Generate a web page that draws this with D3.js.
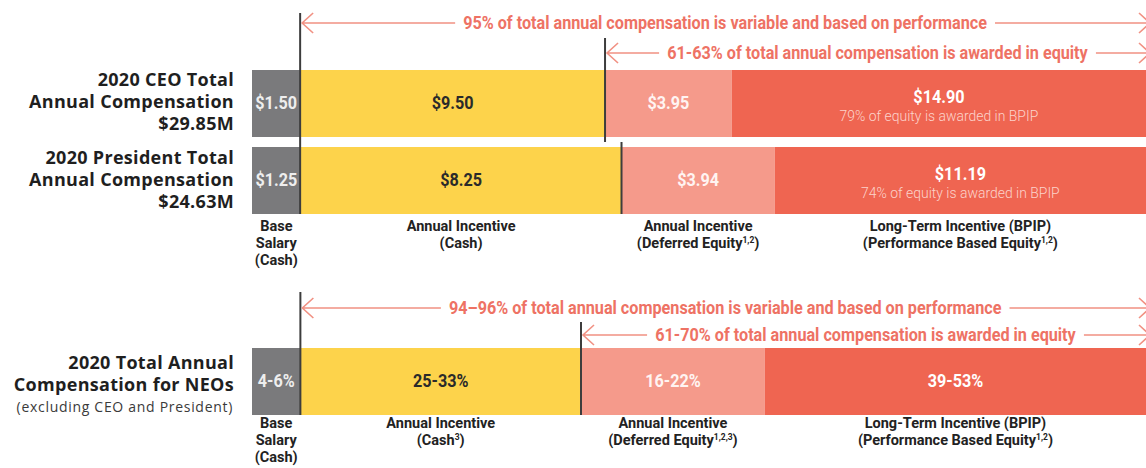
<!DOCTYPE html>
<html>
<head>
<meta charset="utf-8">
<script src="https://cdn.jsdelivr.net/npm/d3@7"></script>
<style>
body { margin: 0; background: #fff; }
svg { display: block; }
.cond { font-family: Roboto, "Liberation Sans", sans-serif; }
.title { font-family: "Open Sans", "Noto Sans", sans-serif; }
</style>
</head>
<body>
<div id="chart-area"></div>
<script>
// compensation components, left to right
var segments = ["Base Salary", "Annual Incentive (Cash)", "Annual Incentive (Deferred Equity)", "Long-Term Incentive (BPIP)"];

// $M
var ceoValues = [1.50, 9.50, 3.95, 14.90];
var presidentValues = [1.25, 8.25, 3.94, 11.19];
var totals = [29.85, 24.63];
var bpipShare = [79, 74];

// other NEOs, % of total (range)
var neoLow = [4, 25, 16, 39];
var neoHigh = [6, 33, 22, 53];

var variableShare = ["95%", "94–96%"];
var equityShare = ["61-63%", "61-70%"];

var ceoTitle = ["2020 CEO Total", "Annual Compensation"];
var presidentTitle = ["2020 President Total", "Annual Compensation"];
var neoTitle = ["2020 Total Annual", "Compensation for NEOs"];
var neoNote = "(excluding CEO and President)";

// label lines: [text, superscript, text]
var topCategoryLabels = [
    [["Base"], ["Salary"], ["(Cash)"]],
    [["Annual Incentive"], ["(Cash)"]],
    [["Annual Incentive"], ["(Deferred Equity", "1,2", ")"]],
    [["Long-Term Incentive (BPIP)"], ["(Performance Based Equity", "1,2", ")"]]
];
var neoCategoryLabels = [
    [["Base"], ["Salary"], ["(Cash)"]],
    [["Annual Incentive"], ["(Cash", "3", ")"]],
    [["Annual Incentive"], ["(Deferred Equity", "1,2,3", ")"]],
    [["Long-Term Incentive (BPIP)"], ["(Performance Based Equity", "1,2", ")"]]
];

var width = 1146, height = 468;
var barLeft = 252, barRight = 1210;
var barH = 67;
var squeeze = 0.9;   // no condensed face installed, so narrow the glyphs
var salmon = "#ee7264";
var arrowColor = "#f19183";

var svg = d3.select("#chart-area")
    .append("svg")
    .attr("width", width)
    .attr("height", height);

var color = d3.scaleOrdinal().domain(segments)
    .range(["#7a7a7c", "#fdd34b", "#f59a8b", "#ef6551"]);
var textColor = d3.scaleOrdinal().domain(segments)
    .range(["#eeeeee", "#2a2a2a", "#fff4f2", "#ffffff"]);

var money = d3.format("$.2f");

// condensed text placed at (x, y)
function condText(parent, x, y, sx) {
    return parent.append("text")
        .attr("class", "cond")
        .attr("transform", `translate(${x},${y}) scale(${sx || squeeze},1)`)
        .attr("dy", "0.35em")
        .attr("text-anchor", "middle");
}

var rows = [
    { values: ceoValues, labels: ceoValues.map(money), sub: bpipShare[0] + "% of equity is awarded in BPIP", top: 70,
      title: ceoTitle.concat([money(totals[0]) + "M"]), titleY: 80 },
    { values: presidentValues, labels: presidentValues.map(money), sub: bpipShare[1] + "% of equity is awarded in BPIP", top: 147,
      title: presidentTitle.concat([money(totals[1]) + "M"]), titleY: 158 },
    { values: neoLow.map((d, i) => (d + neoHigh[i]) / 2), labels: neoLow.map((d, i) => d + "-" + neoHigh[i] + "%"), sub: null, top: 348,
      title: neoTitle, titleY: 363 }
];

rows.forEach(row => {
    row.x = d3.scaleLinear().domain([0, d3.sum(row.values)]).range([barLeft, barRight]);
    var cum = [0].concat(Array.from(d3.cumsum(row.values)));
    row.parts = segments.map((s, i) => ({ seg: s, x0: row.x(cum[i]), x1: row.x(cum[i + 1]), label: row.labels[i] }));
    row.parts.forEach(p => { p.cx = (p.x0 + Math.min(p.x1, width)) / 2; });

    var g = svg.append("g");
    g.selectAll("rect")
        .data(row.parts)
        .enter()
        .append("rect")
        .attr("x", d => d.x0)
        .attr("y", row.top)
        .attr("width", d => d.x1 - d.x0)
        .attr("height", barH)
        .attr("fill", d => color(d.seg));

    var cy = row.top + barH / 2;
    row.parts.forEach((d, i) => {
        condText(g, d.cx, (i === 3 && row.sub) ? cy - 7 : cy - 1)
            .attr("font-size", "18px")
            .attr("font-weight", "bold")
            .attr("fill", textColor(d.seg))
            .text(d.label);
    });

    if (row.sub) {
        condText(g, row.parts[3].cx, cy + 12)
            .attr("font-size", "15.5px")
            .attr("font-weight", 300)
            .attr("fill", "#fcd3cb")
            .text(row.sub);
    }

    // row title
    var t = svg.append("g").attr("class", "title");
    row.title.forEach((line, j) => {
        t.append("text")
            .attr("x", 234)
            .attr("y", row.titleY + j * 22)
            .attr("dy", "0.35em")
            .attr("text-anchor", "end")
            .attr("font-size", "18px")
            .attr("font-weight", "bold")
            .attr("letter-spacing", "0.3px")
            .attr("fill", "#1f1f1f")
            .text(line);
    });
});

svg.append("text")
    .attr("class", "title")
    .attr("x", 233)
    .attr("y", rows[2].titleY + 44)
    .attr("dy", "0.35em")
    .attr("text-anchor", "end")
    .attr("font-size", "14px")
    .attr("letter-spacing", "0.7px")
    .attr("fill", "#3a3a3a")
    .text(neoNote);

// category labels under the bars
function categoryLabels(labels, row, y0) {
    labels.forEach((lines, i) => {
        var p = row.parts[i];
        lines.forEach((pieces, j) => {
            var txt = condText(svg, p.cx, y0 + j * 17, 1)
                .attr("font-size", "14.5px")
                .attr("font-weight", "bold")
                .attr("fill", "#222");
            txt.append("tspan").text(pieces[0]);
            if (pieces.length > 1) {
                txt.append("tspan").attr("dy", -5).attr("font-size", "8.5px").text(pieces[1]);
                txt.append("tspan").attr("dy", 5).text(pieces[2]);
            }
        });
    });
}
categoryLabels(topCategoryLabels, rows[1], 226);
categoryLabels(neoCategoryLabels, rows[2], 423);

// divider lines
function divider(x, y0, y1) {
    svg.append("line")
        .attr("x1", x).attr("x2", x)
        .attr("y1", y0).attr("y2", y1)
        .attr("stroke", "#3d3d3d")
        .attr("stroke-width", 2);
}
var ceo = rows[0], pres = rows[1], neo = rows[2];
divider(ceo.parts[1].x0, 13, pres.top + barH);
divider(ceo.parts[2].x0, 38, ceo.top + barH + 5);
divider(pres.parts[2].x0, ceo.top + barH + 5, pres.top + barH);
divider(neo.parts[1].x0, 292, neo.top + barH);
divider(neo.parts[2].x0, 322, neo.top + barH);

// double-headed annotation arrows
function arrow(x0, x1, y, label) {
    var g = svg.append("g");
    var txt = condText(g, (x0 + x1) / 2, y)
        .attr("font-size", "18px")
        .attr("font-weight", "bold")
        .attr("fill", salmon)
        .text(label);
    var half = txt.node().getBBox().width * squeeze / 2;
    var gap = 8;
    var a0 = x0 + 2;
    var cx = (x0 + x1) / 2;
    g.append("path")
        .attr("d", `M${a0},${y}H${cx - half - gap}M${cx + half + gap},${y}H${x1}`
            + `M${a0 + 11},${y - 10}L${a0},${y}L${a0 + 11},${y + 10}`
            + `M${x1 - 11},${y - 10}L${x1},${y}L${x1 - 11},${y + 10}`)
        .attr("fill", "none")
        .attr("stroke", arrowColor)
        .attr("stroke-width", 1.6);
}
var arrowEnd = width + 4;
arrow(ceo.parts[1].x0, arrowEnd, 23, variableShare[0] + " of total annual compensation is variable and based on performance");
arrow(ceo.parts[2].x0, arrowEnd, 53, equityShare[0] + " of total annual compensation is awarded in equity");
arrow(neo.parts[1].x0, arrowEnd, 308, variableShare[1] + " of total annual compensation is variable and based on performance");
arrow(neo.parts[2].x0, arrowEnd, 335, equityShare[1] + " of total annual compensation is awarded in equity");
</script>
</body>
</html>
